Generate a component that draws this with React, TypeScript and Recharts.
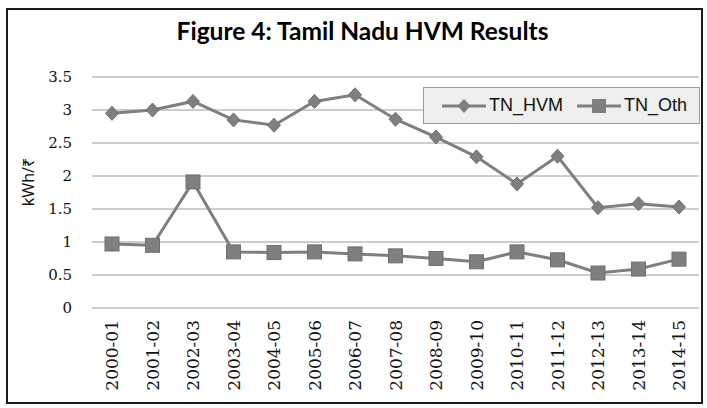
import { CartesianGrid, Legend, Line, LineChart, XAxis, YAxis } from "recharts";

const years = [
  "2000-01", "2001-02", "2002-03", "2003-04", "2004-05", "2005-06", "2006-07", "2007-08",
  "2008-09", "2009-10", "2010-11", "2011-12", "2012-13", "2013-14", "2014-15",
];
const tnHvm = [2.95, 3.0, 3.13, 2.85, 2.77, 3.13, 3.23, 2.86, 2.59, 2.29, 1.88, 2.3, 1.52, 1.58, 1.53];
const tnOth = [0.97, 0.95, 1.91, 0.85, 0.84, 0.85, 0.82, 0.79, 0.75, 0.7, 0.85, 0.73, 0.53, 0.59, 0.74];
const yTicks = [0, 0.5, 1, 1.5, 2, 2.5, 3, 3.5];

const data = years.map((year, i) => ({ year, TN_HVM: tnHvm[i], TN_Oth: tnOth[i] }));

const grey = "#7f7f7f";
const serif = "'DejaVu Serif', serif";

function Diamond({ cx, cy }: any) {
  if (cx == null || cy == null) return null;
  return <polygon points={`${cx},${cy - 7} ${cx + 6.5},${cy} ${cx},${cy + 7} ${cx - 6.5},${cy}`} fill={grey} stroke="#6f6f6f" strokeWidth={1} />;
}

function Square({ cx, cy }: any) {
  if (cx == null || cy == null) return null;
  return <rect x={cx - 7} y={cy - 7} width={14} height={14} fill={grey} stroke="#6f6f6f" strokeWidth={1} />;
}

function YearTick({ x, y, payload }: any) {
  return (
    <text
      x={x}
      y={y + 4}
      transform={`rotate(-90, ${x}, ${y + 4})`}
      textAnchor="end"
      dy="0.36em"
      fontFamily={serif}
      fontSize={17}
      fill="#111"
    >
      {payload.value}
    </text>
  );
}

function LegendBox() {
  const item = (label: string, square: boolean) => (
    <span style={{ display: "inline-flex", alignItems: "center", marginRight: 14 }}>
      <svg width={44} height={16} style={{ marginRight: 3 }}>
        <line x1={0} y1={8} x2={44} y2={8} stroke={grey} strokeWidth={3} />
        {square ? (
          <rect x={15} y={1} width={14} height={14} fill={grey} />
        ) : (
          <polygon points="22,1 28.5,8 22,15 15.5,8" fill={grey} />
        )}
      </svg>
      {label}
    </span>
  );
  return (
    <div
      style={{
        boxSizing: "border-box",
        width: 277,
        height: 37,
        background: "#efefef",
        border: "1px solid #9a9a9a",
        display: "flex",
        alignItems: "center",
        paddingLeft: 18,
        fontFamily: "'Liberation Sans', sans-serif",
        fontSize: 18,
        color: "#111",
      }}
    >
      {item("TN_HVM", false)}
      {item("TN_Oth", true)}
    </div>
  );
}

export default function App() {
  return (
    <div style={{ position: "absolute", left: 0, top: 0, width: 707, height: 408, background: "#fff" }}>
      <div
        style={{
          position: "absolute",
          left: 6,
          top: 8,
          width: 697,
          height: 396,
          boxSizing: "border-box",
          border: "2px solid #1a1a1a",
        }}
      />
      <div
        style={{
          position: "absolute",
          left: 0,
          top: 16,
          width: 725,
          textAlign: "center",
          fontFamily: "Lato, sans-serif",
          fontWeight: 700,
          fontSize: 24.5,
          color: "#000",
        }}
      >
        Figure 4: Tamil Nadu HVM Results
      </div>
      <div
        style={{
          position: "absolute",
          left: 28,
          top: 182,
          transform: "translate(-50%, -50%) rotate(-90deg)",
          fontFamily: "'Noto Sans', sans-serif",
          fontSize: 16,
          whiteSpace: "nowrap",
          color: "#111",
        }}
      >
        kWh/₹
      </div>
      <LineChart width={707} height={408} data={data} margin={{ top: 77, right: 8, left: 0, bottom: 0 }}>
        <CartesianGrid vertical={false} stroke="#9a9a9a" strokeWidth={1} />
        <XAxis
          dataKey="year"
          height={100}
          axisLine={false}
          tickLine={false}
          interval={0}
          padding={{ left: 20, right: 20 }}
          tick={<YearTick />}
        />
        <YAxis
          width={92}
          domain={[0, 3.5]}
          ticks={yTicks}
          axisLine={false}
          tickLine={false}
          tickMargin={14}
          tick={{ fontFamily: serif, fontSize: 15, fill: "#111" }}
        />
        <Legend
          layout="horizontal"
          verticalAlign="middle"
          align="center"
          wrapperStyle={{ left: 423, top: 87, width: 277, height: 37 }}
          content={() => <LegendBox />}
        />
        <Line type="linear" dataKey="TN_HVM" stroke={grey} strokeWidth={3} dot={<Diamond />} isAnimationActive={false} />
        <Line type="linear" dataKey="TN_Oth" stroke={grey} strokeWidth={3} dot={<Square />} isAnimationActive={false} />
      </LineChart>
    </div>
  );
}
